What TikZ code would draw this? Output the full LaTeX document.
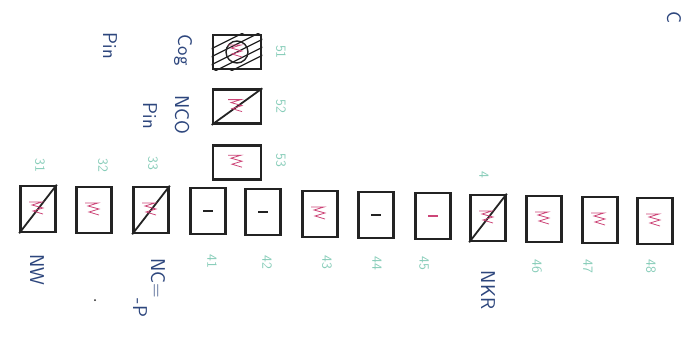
\documentclass[tikz,border=0pt]{standalone}
\usetikzlibrary{positioning}
\definecolor{pen}{RGB}{35,35,35}
\definecolor{ink}{RGB}{45,70,125}
\definecolor{marker}{RGB}{205,70,120}
\definecolor{mint}{RGB}{135,205,185}
\tikzset{
  slot/.style={draw=pen, line width=2.6pt, minimum width=35pt, minimum height=46pt, inner sep=0pt},
  cell/.style={draw=pen, line width=2.6pt, minimum width=48pt, minimum height=34pt, inner sep=0pt},
  tag/.style={text=ink, font=\sffamily\fontsize{20}{22}\selectfont, rotate=-90, inner sep=0pt},
  num/.style={text=mint, font=\sffamily\fontsize{14}{15}\selectfont, rotate=-90, inner sep=0pt},
  scrib/.style={draw=marker, line width=0.8pt},
  cross/.style={draw=pen, line width=1.8pt},
}
\newcommand\squiggle[1]{\draw[scrib] ([shift={(-9pt,7pt)}]#1.center) -- ++(13pt,0) -- ++(-10pt,-3pt)
  -- ++(11pt,-3pt) -- ++(-10pt,-3pt) -- ++(10pt,-3pt);}
\begin{document}
\begin{tikzpicture}[x=1pt, y=-1pt]
\useasboundingbox[fill=white] (0,0) rectangle (685,337);
% bottom row
\foreach \n/\x/\y in {1/38/209, 2/94/210, 3/151/210, 4/208/211, 5/263/212, 6/320/214,
    7/376/215, 8/433/216, 9/488/218, 10/544/219, 11/600/220, 12/655/221}
  \node[slot] (s\n) at (\x,\y) {};
\draw[cross] (s1.south west) -- (s1.north east);
\draw[cross] (s3.south west) -- (s3.north east);
\draw[cross] (s9.south west) -- (s9.north east);
\foreach \n in {1,2,3,6,9,10,11,12}
  \squiggle{s\n}
\foreach \n in {4,5,7}
  \draw[pen, line width=1.3pt] ([xshift=-5pt]s\n.center) -- ([xshift=5pt]s\n.center);
\draw[marker, line width=1.3pt] ([xshift=-5pt]s8.center) -- ([xshift=5pt]s8.center);
% column
\node[cell] (c1) at (237,52) {};
\node[cell, below=18pt of c1] (c2) {};
\node[cell, below=19pt of c2] (c3) {};
\begin{scope}
  \clip (c1.south west) rectangle (c1.north east);
  \draw[pen, line width=1.4pt] (c1.center) circle (11pt);
  \foreach \d in {-16,-8,0,8,16}
    \draw[pen, line width=1.2pt] ([shift={(-26pt,\d pt-13pt)}]c1.center) -- ([shift={(26pt,\d pt+13pt)}]c1.center);
\end{scope}
\squiggle{c1}
\draw[cross] (c2.south west) -- (c2.north east);
\squiggle{c2}
\squiggle{c3}
% labels
\node[tag] (cog) at (183,50) {Cog};
\node[tag] (nco) at (182,115) {NCO};
\node[tag] (pin) at (150,116) {Pin};
\node[tag] (pin2) at (110,46) {Pin};
\node[tag] (nw) at (37,270) {NW};
\node[tag] (ncp) at (158,278) {NC=};
\node[tag] (ncq) at (140,308) {-P};
\node[tag] (nkr) at (488,290) {NKR};
\node[tag] (cut) at (674,18) {C};
\fill[pen] (95,300) circle (1pt);
% numbers
\foreach \x/\y/\t in {40/165/31, 103/165/32, 153/163/33, 281/52/51, 281/106/52, 281/160/53,
    212/261/41, 267/262/42, 327/262/43, 377/263/44, 424/263/45, 484/175/4,
    537/266/46, 588/266/47, 651/266/48}
  \node[num] at (\x,\y) {\t};
\end{tikzpicture}
\end{document}
